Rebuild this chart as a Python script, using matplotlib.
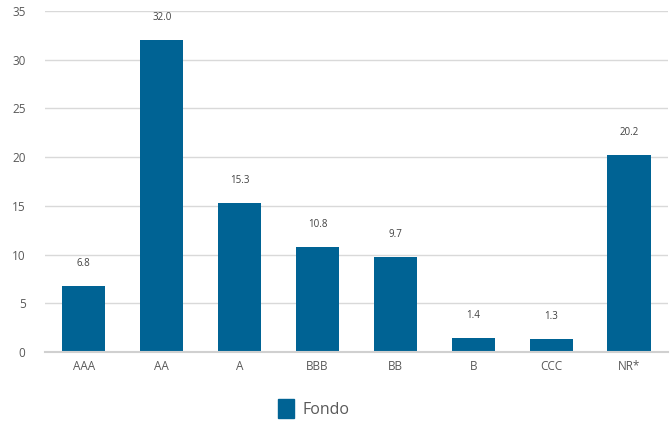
import matplotlib.pyplot as plt
from matplotlib.patches import Patch

plt.rcParams['font.family'] = ['Open Sans', 'DejaVu Sans']

ratings = ["AAA", "AA", "A", "BBB", "BB", "B", "CCC", "NR*"]
fondo = [6.8, 32.0, 15.3, 10.8, 9.7, 1.4, 1.3, 20.2]
yticks = [0, 5, 10, 15, 20, 25, 30, 35]

barColor = "#006394"
textColor = "#595959"

fig = plt.figure(figsize=(6.7, 4.21), dpi=100)
ax = fig.add_axes([0.067, 0.164, 0.93, 0.81])

xs = list(range(len(ratings)))
ax.bar(xs, fondo, width=0.555, color=barColor, zorder=3)
for x, v in zip(xs, fondo):
    ax.text(x, v + 1.75, "%.1f" % v, ha="center", va="bottom", fontsize=7, color="#404040")

ax.set_xlim(-0.5, len(ratings) - 0.5)
ax.set_ylim(0, 35)
ax.set_yticks(yticks)
ax.set_xticks(xs)
ax.set_xticklabels(ratings)
ax.tick_params(axis="both", length=0, labelsize=8.5, colors=textColor)
ax.tick_params(axis="y", pad=14)
ax.tick_params(axis="x", pad=6)
ax.yaxis.grid(True, color="#d9d9d9", linewidth=1, zorder=0)
for s in ["top", "right", "left"]:
    ax.spines[s].set_visible(False)
ax.spines["bottom"].set_color("#d0d0d0")
ax.spines["bottom"].set_linewidth(1.5)
ax.spines["bottom"].set_zorder(4)

handles = [Patch(color=barColor, label="Fondo")]
fig.legend(handles=handles, loc="center", bbox_to_anchor=(0.468, 0.03), frameon=False,
           fontsize=11.5, handlelength=1.0, handleheight=1.4, labelcolor=textColor, handletextpad=0.5)

fig.savefig("out.png", dpi=100)
